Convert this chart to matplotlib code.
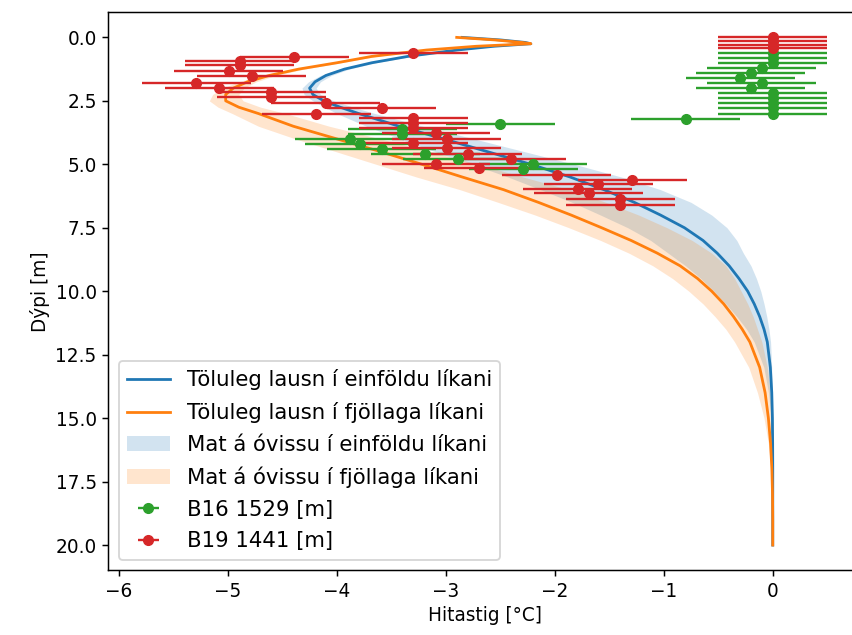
#temperature profile vs depth, two models + borehole data
import matplotlib
matplotlib.use('Agg')
import matplotlib.pyplot as plt
import numpy as np

# depth grid for the model curves [m]
depth = [0.0, 0.1, 0.2, 0.25, 0.35, 0.5, 0.75, 1.0, 1.25, 1.5,
         1.75, 2.0, 2.25, 2.5, 2.75, 3.0, 3.5, 4.0, 4.5, 5.0,
         5.5, 6.0, 6.5, 7.0, 7.5, 8.0, 8.5, 9.0, 9.5, 10.0,
         10.5, 11.0, 11.5, 12.0, 13.0, 14.0, 15.0, 16.0, 17.0, 18.0,
         19.0, 20.0]

# simple model
temp_simple = [-2.85, -2.5, -2.27, -2.22, -2.56, -2.9, -3.35, -3.68, -3.93, -4.1,
               -4.2, -4.25, -4.22, -4.12, -3.97, -3.8, -3.43, -3.02, -2.62, -2.22,
               -1.86, -1.55, -1.27, -1.03, -0.81, -0.64, -0.51, -0.4, -0.31, -0.23,
               -0.17, -0.12, -0.08, -0.05, -0.022, -0.009, -0.003, -0.001, 0.0, 0.0,
               0.0, 0.0]
simple_lo = [0.02, 0.02, 0.02, 0.02, 0.03, 0.03, 0.04, 0.04, 0.05, 0.05,
             0.06, 0.07, 0.08, 0.1, 0.14, 0.2, 0.3, 0.4, 0.48, 0.54,
             0.57, 0.58, 0.57, 0.55, 0.52, 0.48, 0.45, 0.4, 0.35, 0.31,
             0.26, 0.21, 0.16, 0.12, 0.06, 0.03, 0.012, 0.005, 0.002, 0.0,
             0.0, 0.0]
simple_hi = [0.02, 0.02, 0.02, 0.02, 0.03, 0.03, 0.04, 0.04, 0.04, 0.05,
             0.05, 0.06, 0.07, 0.09, 0.12, 0.15, 0.22, 0.28, 0.34, 0.4,
             0.47, 0.52, 0.52, 0.47, 0.39, 0.31, 0.24, 0.2, 0.16, 0.12,
             0.09, 0.065, 0.045, 0.03, 0.012, 0.005, 0.002, 0.001, 0.0, 0.0,
             0.0, 0.0]

# layered model
temp_layered = [-2.9, -2.55, -2.3, -2.22, -2.72, -3.18, -3.68, -4.0, -4.35, -4.62,
                -4.82, -4.95, -5.02, -5.02, -4.9, -4.72, -4.4, -4.0, -3.6, -3.22,
                -2.85, -2.47, -2.15, -1.85, -1.57, -1.3, -1.06, -0.85, -0.69, -0.56,
                -0.45, -0.36, -0.28, -0.21, -0.12, -0.07, -0.04, -0.02, -0.008, -0.002,
                0.0, 0.0]
layered_lo = [0.02, 0.02, 0.02, 0.02, 0.03, 0.03, 0.04, 0.05, 0.06, 0.07,
              0.08, 0.1, 0.12, 0.15, 0.19, 0.24, 0.32, 0.38, 0.41, 0.42,
              0.42, 0.4, 0.37, 0.33, 0.3, 0.28, 0.26, 0.25, 0.23, 0.21,
              0.19, 0.17, 0.15, 0.14, 0.1, 0.07, 0.04, 0.02, 0.01, 0.003,
              0.0, 0.0]
layered_hi = [0.02, 0.02, 0.02, 0.02, 0.03, 0.03, 0.04, 0.04, 0.05, 0.06,
              0.08, 0.1, 0.12, 0.16, 0.2, 0.25, 0.33, 0.4, 0.46, 0.52,
              0.56, 0.6, 0.62, 0.62, 0.6, 0.56, 0.5, 0.42, 0.34, 0.27,
              0.22, 0.18, 0.14, 0.11, 0.07, 0.045, 0.03, 0.015, 0.006, 0.002,
              0.0, 0.0]

# borehole B16
b16_depth = [0.6, 0.8, 1.0, 1.2, 1.4, 1.6, 1.8, 2.0, 2.2, 2.4, 2.6, 2.8, 3.0,
             3.2, 3.4, 3.6, 3.8, 4.0, 4.2, 4.4, 4.6, 4.8, 5.0, 5.2]
b16_temp = [0.0, 0.0, 0.0, -0.1, -0.2, -0.3, -0.1, -0.2, 0.0, 0.0, 0.0, 0.0, 0.0,
            -0.8, -2.5, -3.4, -3.4, -3.88, -3.79, -3.59, -3.19, -2.89, -2.2, -2.29]

# borehole B19
b19_depth = [0.0, 0.15, 0.3, 0.43, 0.62, 0.77, 0.93, 1.1, 1.33, 1.53,
             1.8, 1.98, 2.17, 2.35, 2.6, 2.78, 3.0, 3.18, 3.38, 3.57,
             3.78, 4.0, 4.18, 4.37, 4.6, 4.8, 5.0, 5.15, 5.42, 5.6,
             5.77, 5.97, 6.15, 6.35, 6.6]
b19_temp = [0.0, 0.0, 0.0, 0.0, -3.3, -4.39, -4.89, -4.89, -4.99, -4.78,
            -5.29, -5.08, -4.6, -4.6, -4.1, -3.59, -4.19, -3.3, -3.3, -3.3,
            -3.09, -2.99, -3.3, -2.99, -2.8, -2.4, -3.09, -2.7, -1.98, -1.29,
            -1.6, -1.79, -1.69, -1.4, -1.4]
meas_err = 0.5

s = 1.333
plt.rcParams.update({
    'font.size': 10 * s,
    'lines.linewidth': 1.5 * s,
    'lines.markersize': 7,
    'axes.linewidth': 0.8 * s,
    'xtick.major.size': 3.5 * s,
    'ytick.major.size': 3.5 * s,
    'xtick.major.width': 0.8 * s,
    'ytick.major.width': 0.8 * s,
    'patch.linewidth': 1.0 * s,
})

fig = plt.figure(figsize=(8.53, 6.35), dpi=100)
ax = fig.add_axes([0.1266, 0.1017, 0.8828, 0.8794])

d = np.array(depth)
t1 = np.array(temp_simple)
t2 = np.array(temp_layered)

ax.plot(t1, d, color='C0', label='Töluleg lausn í einföldu líkani')
ax.plot(t2, d, color='C1', label='Töluleg lausn í fjöllaga líkani')
ax.fill_betweenx(d, t1 - np.array(simple_lo), t1 + np.array(simple_hi),
                 color='C0', alpha=0.2, linewidth=0,
                 label='Mat á óvissu í einföldu líkani')
ax.fill_betweenx(d, t2 - np.array(layered_lo), t2 + np.array(layered_hi),
                 color='C1', alpha=0.2, linewidth=0,
                 label='Mat á óvissu í fjöllaga líkani')

ax.errorbar(b16_temp, b16_depth, xerr=meas_err, fmt='o', color='C2',
            elinewidth=1.7, label='B16 1529 [m]')
ax.errorbar(b19_temp, b19_depth, xerr=meas_err, fmt='o', color='C3',
            elinewidth=1.7, label='B19 1441 [m]')

ax.set_xlim(-6.1, 0.81)
ax.set_ylim(21, -1)
ax.set_xticks([-6, -5, -4, -3, -2, -1, 0])
ax.set_yticks([0, 2.5, 5, 7.5, 10, 12.5, 15, 17.5, 20])
ax.set_yticklabels(['0.0', '2.5', '5.0', '7.5', '10.0', '12.5', '15.0', '17.5', '20.0'])
ax.set_xlabel('Hitastig [°C]')
ax.set_ylabel('Dýpi [m]')
ax.legend(loc='lower left', fontsize=15.3, labelspacing=0.55)

fig.savefig('out.png', dpi=100)
